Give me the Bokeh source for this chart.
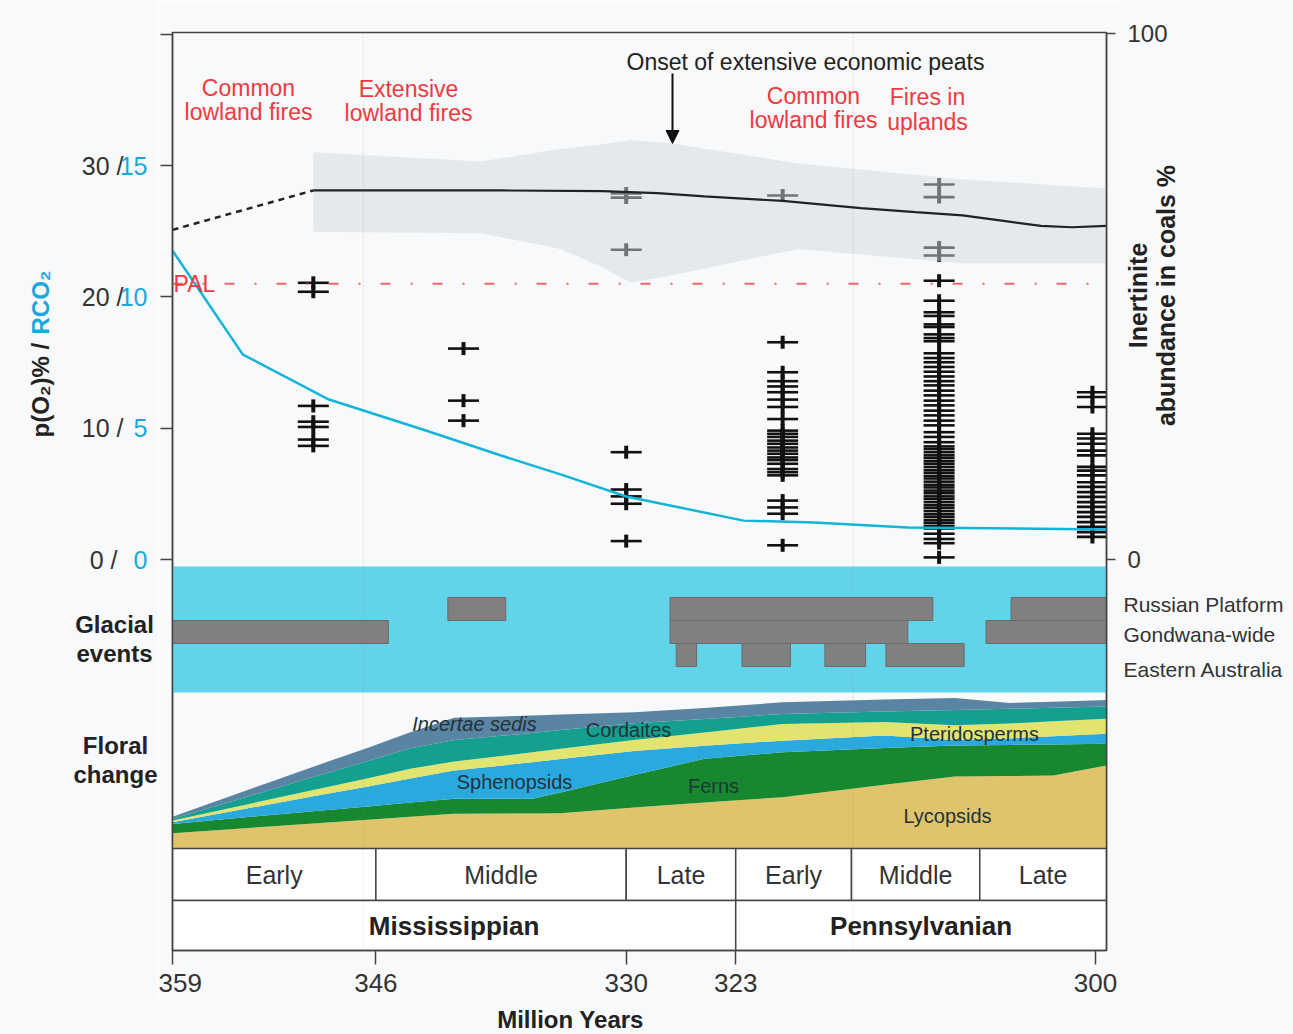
import numpy as np
from bokeh.plotting import figure
from bokeh.layouts import row, column
from bokeh.models import (Range1d, LinearAxis, FixedTicker, Label, Arrow, NormalHead,
                          Span, BoxAnnotation, ColumnDataSource)
from bokeh.core.properties import value
from bokeh.embed import file_html
from bokeh.resources import INLINE

FONT = "Liberation Sans"

# ---------------- data ----------------
# p(O2) model (black line), % ; dotted extrapolation
o2_age = [350, 344, 338, 331.5, 328, 325, 320, 315, 311.5, 308.5, 306, 303.5, 301.5, 299.3]
o2_val = [28.1, 28.1, 28.1, 28.05, 27.9, 27.65, 27.3, 26.75, 26.45, 26.2, 25.8, 25.4, 25.3, 25.4]
o2_dot_age = [359, 350]
o2_dot_val = [25.1, 28.1]
# uncertainty envelope of p(O2)
band_age = [350, 339.3, 334.2, 331.6, 329.7, 327.2, 319, 308.6, 299.3]
band_hi = [31.0, 30.3, 31.25, 31.6, 31.95, 31.7, 30.15, 28.95, 28.25]
band_lo = [24.95, 24.85, 23.65, 22.3, 21.1, 21.6, 23.65, 22.55, 22.55]
PAL = 21
# RCO2 (cyan line)
rco2_age = [359, 354.5, 349, 343, 338, 334.2, 330, 322.5, 318, 312, 299.3]
rco2_val = [11.76, 7.80, 6.09, 4.95, 3.96, 3.24, 2.40, 1.48, 1.41, 1.22, 1.14]

# inertinite abundance in coals (%), by sample age
inert_350 = [52.6, 50.9, 29.2, 26.2, 25.2, 22.8, 21.6]
inert_340 = [40.1, 30.2, 26.4]
inert_330 = [69.6, 68.8, 58.9, 20.4, 13.3, 12.0, 10.6, 3.5]
inert_320 = [69.2, 41.3, 35.6, 33.9, 32.9, 31.8, 30.4, 29.0, 26.7, 24.5, 23.9, 23.3, 22.6,
             22.0, 21.3, 20.7, 20.1, 19.4, 18.9, 18.2, 17.2, 16.6, 16.0, 11.2, 9.9, 8.7, 2.7]
inert_310 = [71.3, 68.9, 59.3, 57.8, 53.0, 49.2, 47.0, 46.3, 44.7, 44.2, 42.8, 42.1, 41.5,
             39.2, 38.3, 37.5, 36.6, 35.7, 34.8, 33.9, 33.1, 32.1, 31.2, 30.2, 29.3, 28.3,
             27.4, 26.4, 25.5, 24.2, 23.3, 22.3, 21.5, 21.0, 20.4, 19.8, 19.3, 18.7, 18.2,
             17.6, 17.0, 16.5, 15.9, 15.4, 14.8, 14.2, 13.7, 13.1, 12.6, 12.0, 11.5, 10.9,
             10.3, 9.8, 9.2, 8.6, 8.1, 7.5, 7.0, 6.4, 5.9, 4.9, 3.9, 3.1, 0.4]
inert_300 = [31.8, 30.9, 29.0, 23.9, 23.0, 22.0, 20.7, 19.8, 17.6, 16.9, 16.0, 14.7, 13.8,
             12.8, 11.9, 10.9, 10.0, 9.0, 8.1, 7.1, 6.2, 5.2, 4.3]
inert_groups = [(350.0, inert_350), (340.4, inert_340), (330.0, inert_330),
                (320.0, inert_320), (310.0, inert_310), (300.2, inert_300)]

# glacial events: row 3 = Russian Platform, 2 = Gondwana-wide, 1 = Eastern Australia
glac_row = [2, 2, 2, 3, 3, 3, 1, 1, 1, 1]
glac_old = [359.0, 327.2, 307.0, 341.4, 327.2, 305.4, 326.8, 322.6, 317.3, 313.4]
glac_young = [345.2, 312.0, 299.3, 337.7, 310.4, 299.3, 325.5, 319.5, 314.7, 308.4]
glac_names = ["Russian Platform", "Gondwana-wide", "Eastern Australia"]

# floral change (relative abundance, stacked)
flora_age = [359, 350, 346.5, 343.8, 341, 336, 334.2, 329.5, 325, 320, 313.5, 309, 305.5, 302.7, 299.3]
lycopsids = [10.1, 16.6, 19.0, 21.0, 23.0, 23.2, 23.4, 27.2, 30.5, 34.0, 42.3, 47.7, 48.0, 48.3, 55.0]
ferns = [6.2, 8.1, 8.8, 9.4, 9.9, 9.7, 13.7, 21.5, 28.9, 29.7, 24.2, 20.5, 20.6, 20.6, 14.4]
sphenopsids = [1.1, 9.9, 13.3, 16.0, 18.7, 24.2, 22.1, 15.8, 8.7, 7.7, 8.4, 3.7, 4.3, 5.4, 6.6]
pteridosperms = [1.1, 4.2, 5.4, 6.4, 6.0, 6.6, 6.8, 7.3, 8.7, 11.1, 8.8, 9.8, 9.9, 10.0, 9.9]
cordaites = [1.1, 8.5, 11.4, 13.6, 14.2, 12.8, 12.4, 11.1, 8.9, 6.6, 7.0, 10.0, 9.7, 8.9, 8.1]
incertae = [1.5, 6.9, 8.9, 10.6, 14.8, 11.5, 10.3, 7.4, 7.4, 7.7, 7.9, 8.0, 3.9, 4.0, 4.4]

# time scale
stage_bounds = [359, 346, 330, 323, 315.6, 307.4, 299.3]
stage_names = ["Early", "Middle", "Late", "Early", "Middle", "Late"]
epoch_bounds = [359, 323, 299.3]
epoch_names = ["Mississippian", "Pennsylvanian"]
age_ticks = [359, 346, 330, 323, 300]
o2_ticks = [0, 10, 20, 30]
inert_ticks = [0, 100]

# ---------------- layout (page pixels) ----------------
PAGE_W, PAGE_H = 1293, 1034
BOTTOM_H = 30
ROW_H = PAGE_H - BOTTOM_H
XL, XR = 359.0, 299.3
F_LEFT, F_RIGHT, F_TOP, F_BOTTOM = 172, 1106, 32, 950
LEFT_W = 158
RIGHT_X0 = 1120
PXX = (F_RIGHT - F_LEFT) / (XL - XR)
O2_UPP = 30 / (559 - 165)
INERT_UPP = 100 / 526
GLAC_UPP = 1 / 23


def xm(px):
    return XL - (px - F_LEFT) / PXX


def ym(py):
    return (559 - py) * O2_UPP


def o2_px(v):
    return 559 - v / O2_UPP


def inert_px(v):
    return 559 - v / INERT_UPP


def mk_range(v0, px0, upp):
    return Range1d(v0 - (F_BOTTOM - px0) * upp, v0 + (px0 - F_TOP) * upp)


BG = "#f8f9fa"
RED = "#ee3a3f"
CYAN_TXT = "#1ea7dc"
CYAN_LINE = "#12b4d8"
DARK = "#222222"
GREYTXT = "#333333"

p = figure(x_range=Range1d(XL, XR), y_range=mk_range(0, 559, O2_UPP),
           frame_width=F_RIGHT - F_LEFT, frame_height=F_BOTTOM - F_TOP,
           min_border_left=F_LEFT - LEFT_W, min_border_right=RIGHT_X0 - F_RIGHT,
           min_border_top=F_TOP, min_border_bottom=ROW_H - F_BOTTOM,
           output_backend="svg", toolbar_location=None,
           background_fill_color=BG, border_fill_color=BG,
           outline_line_color="#444444", outline_line_width=1.5)
p.frame_align = False
p.xgrid.visible = False
p.ygrid.visible = False
p.extra_y_ranges = {
    "inert": mk_range(0, 559, INERT_UPP),
    "rco2": mk_range(0, 559, O2_UPP / 2),
    "flora": mk_range(0, 848, 100 / 151),
    "glac": mk_range(2, 631.5, GLAC_UPP),
}


def style_axis(ax, tick_out):
    ax.major_tick_out = tick_out
    ax.major_tick_in = 0
    ax.minor_tick_out = 0
    ax.minor_tick_in = 0
    ax.axis_line_color = "#444444"
    ax.axis_line_width = 1.5
    ax.major_tick_line_color = "#444444"
    ax.major_tick_line_width = 1.5


xa = p.xaxis[0]
xa.ticker = FixedTicker(ticks=age_ticks)
xa.major_label_text_font = FONT
xa.major_label_text_font_size = "26px"
xa.major_label_text_color = GREYTXT
xa.major_label_standoff = 9
style_axis(xa, 14)

ya = p.yaxis[0]
ya.ticker = FixedTicker(ticks=o2_ticks + [40])
ya.major_label_overrides = {t: "" for t in o2_ticks + [40]}
ya.major_label_standoff = 0
style_axis(ya, 12)

ra = LinearAxis(y_range_name="inert", ticker=FixedTicker(ticks=inert_ticks))
ra.major_label_overrides = {t: "" for t in inert_ticks}
ra.major_label_standoff = 0
style_axis(ra, 9)
p.add_layout(ra, "right")

# glacial panel
p.add_layout(BoxAnnotation(bottom=ym(692), top=ym(566), fill_color="#62d4e9", fill_alpha=1.0,
                           line_alpha=0, level="underlay"))
p.hbar(y=glac_row, left=glac_old, right=glac_young, height=1.0, y_range_name="glac",
       fill_color="#808080", line_color="#6a6a6a", line_width=1)

# floral stack
flora_names = ["Lycopsids", "Ferns", "Sphenopsids", "Pteridosperms", "Cordaites", "Incertae"]
flora_cols = ["#dfc46b", "#17882f", "#2aa9de", "#e1e46e", "#13a08e", "#5a84a3"]
fsrc = ColumnDataSource(dict(age=flora_age, Lycopsids=lycopsids, Ferns=ferns,
                             Sphenopsids=sphenopsids, Pteridosperms=pteridosperms,
                             Cordaites=cordaites, Incertae=incertae))
p.varea_stack(stackers=flora_names, x="age", color=flora_cols, source=fsrc, y_range_name="flora")

# time-scale boxes
s_old = stage_bounds[:-1]
s_young = stage_bounds[1:]
p.quad(left=s_old, right=s_young, top=ym(848), bottom=ym(900), fill_color="white",
       line_color="#444444", line_width=1.5)
e_old = epoch_bounds[:-1]
e_young = epoch_bounds[1:]
p.quad(left=e_old, right=e_young, top=ym(900), bottom=ym(950), fill_color="white",
       line_color="#444444", line_width=1.5)
p.text(x=[(a + b) / 2 for a, b in zip(s_old, s_young)], y=ym(874), text=stage_names,
       text_font=value(FONT), text_font_size="25px", text_align="center",
       text_baseline="middle", text_color=GREYTXT)
p.text(x=[(a + b) / 2 for a, b in zip(e_old, e_young)], y=ym(925), text=epoch_names,
       text_font=value(FONT), text_font_size="26px", text_font_style="bold",
       text_align="center", text_baseline="middle", text_color=DARK)

# faint period guide lines
for loc in (346.8, 315.5):
    p.add_layout(Span(location=loc, dimension="height", line_color="#888888", line_alpha=0.25,
                      line_width=1, line_dash="2 2", level="overlay"))

# inertinite crosses
ia, iv = [], []
for age, vals in inert_groups:
    ia += [age] * len(vals)
    iv += vals
isrc = ColumnDataSource(dict(age=ia, pct=iv))
p.scatter("age", "pct", source=isrc, marker="dash", size=31, line_width=2.6,
          line_color="#111111", y_range_name="inert")
p.scatter("age", "pct", source=isrc, marker="dash", angle=np.pi / 2, size=13, line_width=4,
          line_color="#111111", y_range_name="inert")

# O2 envelope (drawn over crosses, semi-transparent)
p.varea(x=band_age, y1=band_lo, y2=band_hi, fill_color="#d2dadb", fill_alpha=0.5)

# O2 curve
p.line(o2_dot_age, o2_dot_val, line_color="#222222", line_width=2.5, line_dash="6 5")
p.line(o2_age, o2_val, line_color="#222222", line_width=2.2)

# PAL
p.add_layout(Span(location=PAL, dimension="width", line_color="#f04b4b", line_width=2,
                  line_dash="10 20 2 20", line_alpha=0.85))

# RCO2
p.line(rco2_age, rco2_val, y_range_name="rco2", line_color=CYAN_LINE, line_width=2.5)


def lab(fig, x, y, text, size, color=DARK, style="normal", align="center", angle=0.0):
    fig.add_layout(Label(x=x, y=y, text=text, text_font=FONT,
                         text_font_size=f"{size}px", text_color=color, text_font_style=style,
                         text_align=align, text_baseline="middle", angle=angle))


def mlab(text, px, py, size, color=DARK, style="normal", align="center"):
    lab(p, xm(px), ym(py), text, size, color, style, align)


# fire annotations
mlab("Common", 248, 87, 23, RED)
mlab("lowland fires", 248, 111, 23, RED)
mlab("Extensive", 408, 88, 23, RED)
mlab("lowland fires", 408, 112, 23, RED)
mlab("Common", 813, 95, 23, RED)
mlab("lowland fires", 813, 119, 23, RED)
mlab("Fires in", 927, 96, 23, RED)
mlab("uplands", 927, 121, 23, RED)
mlab("Onset of extensive economic peats", 805, 61, 23, DARK)
p.add_layout(Arrow(end=NormalHead(size=13, fill_color="#111111", line_color="#111111"),
                   x_start=xm(672), y_start=ym(73), x_end=xm(672), y_end=ym(143),
                   line_width=2, line_color="#111111"))
lab(p, xm(173), PAL, "PAL", 23, RED, align="left")

# floral labels
FL = "#24323a"
mlab("Incertae sedis", 474, 723, 20, FL, style="italic")
mlab("Cordaites", 628, 729, 20, FL)
mlab("Sphenopsids", 514, 781, 20, FL)
mlab("Ferns", 713, 785, 20, FL)
mlab("Pteridosperms", 974, 733, 20, FL)
mlab("Lycopsids", 947, 815, 20, FL)


def side_fig(x0, x1, y0, y1):
    f = figure(width=x1 - x0, height=y1 - y0, x_range=Range1d(x0, x1), y_range=Range1d(y1, y0),
               x_axis_type=None, y_axis_type=None, output_backend="svg", toolbar_location=None,
               min_border=0, min_border_left=0, min_border_right=0, min_border_top=0,
               min_border_bottom=0, background_fill_color=BG, border_fill_color=BG,
               outline_line_color=None)
    f.frame_align = False
    f.xgrid.visible = False
    f.ygrid.visible = False
    return f


# ---------- left side: tick labels, axis title, panel titles ----------
left = side_fig(0, LEFT_W, 0, ROW_H)
for t in o2_ticks:
    py = o2_px(t)
    lab(left, 123 if t >= 10 else 117, py, f"{t} /", 25, GREYTXT, align="right")
    lab(left, 147, py, f"{t // 2}", 25, CYAN_TXT, align="right")
lab(left, 40, 437, "p(O\u2082)% /", 24, DARK, style="bold", align="left", angle=np.pi / 2)
lab(left, 40, 334, "RCO\u2082", 24, CYAN_TXT, style="bold", align="left", angle=np.pi / 2)
lab(left, 114, 624, "Glacial", 24, DARK, style="bold")
lab(left, 114, 653, "events", 24, DARK, style="bold")
lab(left, 115, 745, "Floral", 24, DARK, style="bold")
lab(left, 115, 774, "change", 24, DARK, style="bold")

# ---------- right side: inertinite ticks, title, glacial regions ----------
right = side_fig(RIGHT_X0, PAGE_W, 0, ROW_H)
for t in inert_ticks:
    lab(right, 1127, inert_px(t), f"{t}", 24, GREYTXT, align="left")
lab(right, 1137, 295, "Inertinite", 25, DARK, style="bold", angle=np.pi / 2)
lab(right, 1165, 295, "abundance in coals %", 25, DARK, style="bold", angle=np.pi / 2)
for name, py in zip(glac_names, (604, 634, 669)):
    lab(right, 1123, py, name, 21, GREYTXT, align="left")

# ---------- bottom: x-axis title ----------
bottom = side_fig(0, PAGE_W, ROW_H, PAGE_H)
lab(bottom, 570, ROW_H + BOTTOM_H / 2, "Million Years", 24, DARK, style="bold")

layout = column(row(left, p, right, spacing=0), bottom, spacing=0)
open("out.html", "w").write(file_html(layout, INLINE))
